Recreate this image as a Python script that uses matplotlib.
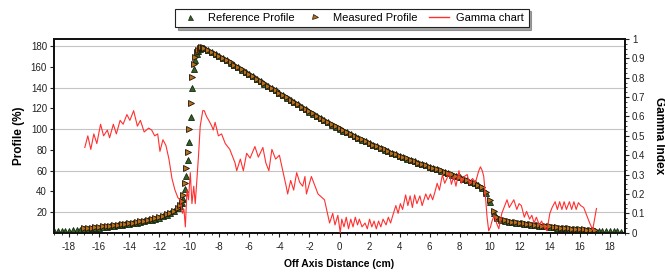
import numpy as np
import matplotlib
matplotlib.use("Agg")
import matplotlib.pyplot as plt
from matplotlib.ticker import MultipleLocator
from matplotlib.lines import Line2D

plt.rcParams['font.family'] = ['Liberation Sans', 'DejaVu Sans']

# ---------------- data ----------------
# sample positions of the profiles (cm)
PROFILE_X = np.round(np.concatenate([
    np.arange(-19.0, -10.74, 0.25),
    np.arange(-10.6, -8.95, 0.1),
    np.arange(-8.75, 19.01, 0.25),
]), 2)

REFERENCE = [
    1.2, 1.4, 1.6, 1.8, 2.0, 2.3, 2.6, 3.0, 3.4,
    3.8, 4.2, 4.6, 5.0, 5.4, 5.8, 6.2, 6.6, 7.1, 7.6, 8.1, 8.6, 9.2, 9.8, 10.4,
    11.0, 11.8, 12.6, 13.5, 14.5, 15.7, 17.0, 18.6, 20.5, 23.5,
    26.0, 29.0, 33.0, 42.0, 55.0, 70.0, 88.0, 112.0, 140.0, 158.0, 167.0, 172.5,
    175.5, 177.5, 178.5, 178.5, 178.0,
    176.5, 174.7, 172.8, 170.8, 168.7, 166.5, 164.3, 162.0, 159.8, 157.5, 155.3,
    153.0, 150.8, 148.5, 146.3, 144.0, 141.8, 139.5, 137.3, 135.0, 132.8, 130.5,
    128.3, 126.0, 123.8, 121.5, 119.3, 117.0, 114.9, 112.8, 110.7, 108.6, 106.5,
    104.4, 102.4,
    100.5, 98.6, 96.8, 95.0, 93.2, 91.5, 89.8, 88.1, 86.5, 84.9, 83.3, 81.7,
    80.2, 78.7, 77.2, 75.7, 74.3, 72.9, 71.5, 70.1, 68.8, 67.5, 66.2, 65.0,
    63.7, 62.5, 61.2, 60.0, 58.7, 57.4, 56.0, 54.7, 53.3, 52.0, 50.6, 49.2,
    47.8, 46.2, 43.5, 38.5, 30.0, 19.5, 14.5, 12.3, 11.2, 10.6, 10.0, 9.5,
    9.0, 8.5, 8.0, 7.6, 7.2, 6.8, 6.4, 6.0, 5.6, 5.2, 4.8, 4.5,
    4.1, 3.8, 3.5, 3.2, 2.9, 2.6, 2.4, 2.2, 2.0, 1.8, 1.6, 1.5,
    1.4, 1.3, 1.2, 1.1, 1.0,
]

# measured profile covers -17 .. 17 cm (same sample positions)
MEASURED = [
    4.4, 4.7, 5.0, 5.3, 5.7, 6.0, 6.4, 6.8, 7.2, 7.7, 8.2, 8.7, 9.2, 9.8,
    10.4, 11.0, 11.7, 12.5, 13.3, 14.2, 15.2, 16.4, 17.8, 19.4, 21.3, 24.3,
    27.0, 31.0, 36.0, 48.0, 62.0, 78.0, 100.0, 125.0, 150.0, 163.0, 169.5,
    174.0, 176.5, 178.0, 179.0, 178.8, 178.2,
    176.8, 174.9, 173.0, 171.0, 168.9, 166.8, 164.5, 162.3, 160.0, 157.8, 155.5,
    153.3, 151.0, 148.8, 146.5, 144.3, 142.0, 139.8, 137.5, 135.3, 133.0, 130.8,
    128.5, 126.3, 124.0, 121.8, 119.5, 117.3, 115.1, 113.0, 110.9, 108.8, 106.7,
    104.6, 102.6,
    100.7, 98.8, 97.0, 95.2, 93.4, 91.7, 90.0, 88.3, 86.7, 85.1, 83.5, 81.9,
    80.4, 78.9, 77.4, 75.9, 74.5, 73.1, 71.7, 70.3, 69.0, 67.7, 66.4, 65.2,
    63.9, 62.7, 61.4, 60.2, 58.9, 57.6, 56.2, 54.9, 53.5, 52.2, 50.8, 49.4,
    48.0, 46.5, 44.0, 39.5, 31.5, 21.0, 15.5, 13.0, 11.8, 11.1, 10.5, 10.0,
    9.5, 9.0, 8.5, 8.1, 7.7, 7.3, 6.9, 6.5, 6.1, 5.7, 5.3, 5.0,
    4.6, 4.3, 4.0, 3.7, 3.4, 3.1, 2.9, 2.7, 2.5,
]

GAMMA_X = [
    -16.95, -16.75, -16.55, -16.35, -16.15, -15.9, -15.7, -15.45, -15.3, -15.05,
    -14.85, -14.6, -14.4, -14.15, -13.95, -13.7, -13.45, -13.25, -13.0, -12.7,
    -12.5, -12.3, -12.1, -11.95, -11.75, -11.55, -11.35, -11.15, -10.95, -10.75,
    -10.6, -10.45, -10.35, -10.26, -10.15, -10.05, -9.93, -9.82, -9.7, -9.6,
    -9.5, -9.38, -9.27, -9.1, -9.0, -8.85, -8.7, -8.5, -8.4, -8.28,
    -8.06, -7.85, -7.6, -7.3, -6.95, -6.84, -6.6, -6.4, -6.18, -5.95,
    -5.63, -5.4, -5.1, -4.9, -4.7, -4.5, -4.25, -4.0, -3.8, -3.55,
    -3.45, -3.25, -3.05, -2.85, -2.65, -2.45, -2.3, -2.2, -1.87, -1.43,
    -1.0, -0.66, -0.45, -0.3, -0.11, 0.05, 0.15, 0.3, 0.45, 0.6,
    0.75, 0.9, 1.05, 1.2, 1.32, 1.5, 1.7, 1.85, 2.0, 2.15,
    2.3, 2.45, 2.6, 2.75, 2.9, 3.1, 3.25, 3.4, 3.55, 3.75,
    3.9, 4.05, 4.2, 4.4, 4.55, 4.7, 4.85, 5.0, 5.15, 5.35,
    5.5, 5.74, 5.9, 6.05, 6.2, 6.35, 6.5, 6.65, 6.85, 7.0,
    7.15, 7.3, 7.45, 7.6, 7.75, 7.95, 8.1, 8.3, 8.5, 8.65,
    8.85, 9.05, 9.27, 9.38, 9.5, 9.6, 9.7, 9.82, 9.93, 10.05,
    10.15, 10.3, 10.45, 10.6, 10.8, 10.95, 11.15, 11.3, 11.45, 11.6,
    11.8, 11.95, 12.1, 12.3, 12.45, 12.65, 12.8, 12.95, 13.1, 13.3,
    13.45, 13.6, 13.8, 14.0, 14.15, 14.35, 14.5, 14.65, 14.8, 14.95,
    15.1, 15.3, 15.45, 15.6, 15.75, 15.9, 16.05, 16.25, 16.45, 16.65,
    16.85, 17.1,
]
GAMMA = [
    0.44, 0.50, 0.43, 0.51, 0.46, 0.56, 0.50, 0.53, 0.49, 0.56,
    0.51, 0.58, 0.56, 0.61, 0.58, 0.63, 0.55, 0.58, 0.52, 0.54,
    0.53, 0.50, 0.51, 0.42, 0.48, 0.45, 0.38, 0.28, 0.22, 0.18,
    0.17, 0.10, 0.12, 0.03, 0.22, 0.17, 0.31, 0.15, 0.24, 0.15,
    0.26, 0.40, 0.55, 0.63, 0.63, 0.60, 0.58, 0.55, 0.53, 0.57,
    0.50, 0.51, 0.46, 0.43, 0.36, 0.32, 0.38, 0.32, 0.41, 0.385,
    0.445, 0.39, 0.44, 0.36, 0.32, 0.43, 0.38, 0.40, 0.33, 0.24,
    0.20, 0.27, 0.22, 0.31, 0.26, 0.24, 0.29, 0.20, 0.29, 0.20,
    0.17, 0.05, 0.10, 0.04, 0.09, 0.00, 0.07, 0.03, 0.08, 0.02,
    0.07, 0.03, 0.08, 0.04, 0.07, 0.03, 0.05, 0.02, 0.07, 0.03,
    0.06, 0.02, 0.06, 0.03, 0.07, 0.04, 0.08, 0.05, 0.09, 0.14,
    0.10, 0.15, 0.12, 0.195, 0.14, 0.19, 0.13, 0.195, 0.15, 0.19,
    0.14, 0.20, 0.17, 0.20, 0.17, 0.21, 0.255, 0.22, 0.30, 0.255,
    0.28, 0.31, 0.25, 0.29, 0.24, 0.32, 0.255, 0.29, 0.30, 0.25,
    0.28, 0.26, 0.32, 0.34, 0.32, 0.29, 0.20, 0.08, 0.01, 0.03,
    0.06, 0.09, 0.05, 0.02, 0.10, 0.13, 0.17, 0.13, 0.15, 0.17,
    0.12, 0.15, 0.14, 0.08, 0.11, 0.07, 0.09, 0.05, 0.08, 0.04,
    0.06, 0.03, 0.01, 0.10, 0.13, 0.16, 0.12, 0.16, 0.12, 0.16,
    0.12, 0.16, 0.12, 0.16, 0.12, 0.155, 0.14, 0.13, 0.09, 0.05,
    0.015, 0.125,
]

X_TICKS = list(range(-18, 19, 2))
LEFT_TICKS = [20, 40, 60, 80, 100, 120, 140, 160, 180]
RIGHT_TICKS = [0, 0.1, 0.2, 0.3, 0.4, 0.5, 0.6, 0.7, 0.8, 0.9, 1]
RIGHT_LABELS = ['0', '0.1', '0.2', '0.3', '0.4', '0.5', '0.6', '0.7', '0.8', '0.9', '1']
GRID_LEVELS = [20, 60, 100, 140, 180]

REF_FACE, REF_EDGE = '#355f27', '#142a10'
MEAS_FACE, MEAS_EDGE = '#b8701a', '#1e1408'
GAMMA_COLOR = '#ff3030'

# ---------------- figure ----------------
fig = plt.figure(figsize=(6.65, 2.73), dpi=100)
ax = fig.add_axes([54/665, 1-232.7/273, (625-54)/665, (232.7-39)/273])
ax2 = ax.twinx()

x = np.array(PROFILE_X)
ref = np.array(REFERENCE)
mask = (x >= -17.001) & (x <= 17.001)
xm = x[mask]
meas = np.array(MEASURED)

for g in GRID_LEVELS:
    ax.axhline(g, color='#c4c4c4', lw=0.8, zorder=0)

ax.plot(x, ref, linestyle='none', marker='^', markersize=4.0,
        markerfacecolor=REF_FACE, markeredgecolor=REF_EDGE, markeredgewidth=0.6,
        zorder=3)
ax.plot(xm, meas, linestyle='none', marker='>', markersize=4.0,
        markerfacecolor=MEAS_FACE, markeredgecolor=MEAS_EDGE, markeredgewidth=0.6,
        zorder=4)

ax2.plot(GAMMA_X, GAMMA, color=GAMMA_COLOR, lw=0.8, zorder=5)

ax.set_xlim(-19, 19)
ax.set_ylim(0, 187)
ax2.set_ylim(0, 1)

ax.set_xticks(X_TICKS)
ax.set_xticklabels([str(t) for t in X_TICKS])
ax.xaxis.set_minor_locator(MultipleLocator(0.5))
ax.set_yticks(LEFT_TICKS)
ax.set_yticklabels([str(t) for t in LEFT_TICKS])
ax2.set_yticks(RIGHT_TICKS)
ax2.set_yticklabels(RIGHT_LABELS)
ax2.yaxis.set_minor_locator(MultipleLocator(0.025))

for a in (ax, ax2):
    a.tick_params(axis='both', which='major', labelsize=7, length=3, width=0.8,
                  pad=2, colors='#222222', labelcolor='#222222')
    a.tick_params(axis='both', which='minor', length=1.5, width=0.6, colors='#222222')
    for s in a.spines.values():
        s.set_linewidth(1.3)
        s.set_color('#111111')
ax.tick_params(axis='x', pad=4)

ax.set_xlabel('Off Axis Distance (cm)', fontsize=7.5, fontweight='bold', labelpad=5)
ax.set_ylabel('Profile (%)', fontsize=8.5, fontweight='bold', labelpad=4)
ax2.set_ylabel('Gamma Index', fontsize=8.5, fontweight='bold', rotation=270, labelpad=14)

handles = [
    Line2D([], [], linestyle='none', marker='^', markersize=3.6,
           markerfacecolor=REF_FACE, markeredgecolor=REF_EDGE, markeredgewidth=0.5),
    Line2D([], [], linestyle='none', marker='>', markersize=3.6,
           markerfacecolor=MEAS_FACE, markeredgecolor=MEAS_EDGE, markeredgewidth=0.5),
    Line2D([], [], color=GAMMA_COLOR, lw=1.0),
]
labels = ['Reference Profile', 'Measured Profile', 'Gamma chart']
leg = fig.legend(handles, labels, loc='center', bbox_to_anchor=(352/665, 1-18/273),
                 ncol=3, fontsize=8, frameon=True, fancybox=False, shadow=True,
                 edgecolor='#222222', handlelength=1.8, handletextpad=0.7,
                 columnspacing=1.0, borderpad=0.4, borderaxespad=0)
leg.get_frame().set_linewidth(0.8)

fig.savefig('out.png', dpi=100)
